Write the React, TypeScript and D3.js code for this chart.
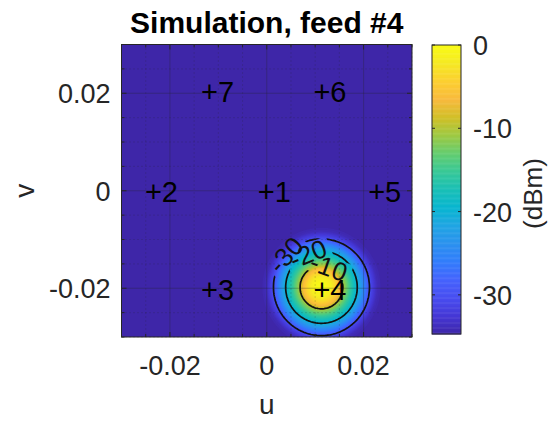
import React, { useEffect, useRef } from 'react';
import * as d3 from 'd3';

// axes
const uLimits = [-0.03, 0.03];
const vLimits = [-0.03, 0.03];
const axisTicks = [-0.02, 0, 0.02];
const axisTickLabels = ['-0.02', '0', '0.02'];
const minorStep = 0.005;

// feed horns
const feedNames = ['1', '2', '3', '4', '5', '6', '7'];
const feedU = [0, -0.0233, -0.0117, 0.0115, 0.0228, 0.0115, -0.0117];
const feedV = [0, 0, -0.0201, -0.0201, 0, 0.0204, 0.0204];

// simulated beam of feed #4: radial profile
const beamCenter = [0.0113, -0.0198];
const profileR = [0, 0.001, 0.002, 0.003, 0.0038, 0.0044, 0.006, 0.0074, 0.0087, 0.0099, 0.0106, 0.0115, 0.0126];
const profileDb = [0, -0.4, -1.6, -3.8, -6.6, -10, -15.6, -20, -25, -30, -32, -34, -34.7];

// contour levels + where clabel put the labels (polar angle around beam, deg)
const contourLevels = [-30, -20, -10];
const labelAngles = [138, 112, 70];

// colorbar
const cLimits = [-34.7, 0];
const cTicks = [0, -10, -20, -30];

const parula = [
  [0.2422, 0.1504, 0.6603], [0.2706, 0.2147, 0.8364], [0.2813, 0.3006, 0.9414],
  [0.2699, 0.3892, 0.9906], [0.1963, 0.4847, 0.9892], [0.1687, 0.5703, 0.9359],
  [0.1248, 0.6459, 0.8883], [0.0297, 0.7082, 0.8163], [0.0964, 0.75, 0.712],
  [0.2161, 0.7843, 0.5923], [0.3909, 0.8029, 0.4354], [0.6174, 0.7876, 0.2612],
  [0.8203, 0.7498, 0.1535], [0.9728, 0.7298, 0.2394], [0.9892, 0.8136, 0.1885],
  [0.9597, 0.9135, 0.1423], [0.9769, 0.9839, 0.0805],
].map(c => d3.rgb(c[0] * 255, c[1] * 255, c[2] * 255).toString());

const FONT = 'Liberation Sans, Arial, Helvetica, sans-serif';
const AX = '#262626';

const App = () => {
  const svgRef = useRef(null);

  useEffect(() => {
    const plot = { left: 121.5, right: 412, top: 44.5, bottom: 337 };
    const cb = { left: 432, right: 461, top: 45, bottom: 334 };

    const svg = d3.select(svgRef.current);
    svg.selectAll('*').remove();

    const x = d3.scaleLinear().domain(uLimits).range([plot.left, plot.right]);
    const y = d3.scaleLinear().domain(vLimits).range([plot.bottom, plot.top]);
    const color = d3.scaleSequential(d3.piecewise(d3.interpolateRgb, parula))
      .domain(cLimits).clamp(true);

    const defs = svg.append('defs');
    defs.append('clipPath').attr('id', 'plotClip')
      .append('rect')
      .attr('x', plot.left).attr('y', plot.top)
      .attr('width', plot.right - plot.left).attr('height', plot.bottom - plot.top);

    // field on a grid
    const n = 240;
    const profile = d3.scaleLinear().domain(profileR).range(profileDb).clamp(true);
    const du = uLimits[1] - uLimits[0];
    const dv = vLimits[1] - vLimits[0];
    const values = new Array(n * n);
    for (let j = 0; j < n; j++) {
      const v = vLimits[1] - ((j + 0.5) / n) * dv;
      for (let i = 0; i < n; i++) {
        const u = uLimits[0] + ((i + 0.5) / n) * du;
        values[j * n + i] = profile(Math.hypot(u - beamCenter[0], v - beamCenter[1]));
      }
    }

    const toPx = d3.geoTransform({
      point(px, py) {
        this.stream.point(x(uLimits[0] + (px / n) * du), y(vLimits[1] - (py / n) * dv));
      },
    });
    const path = d3.geoPath(toPx);

    const field = svg.append('g').attr('clip-path', 'url(#plotClip)');
    field.append('rect')
      .attr('x', plot.left).attr('y', plot.top)
      .attr('width', plot.right - plot.left).attr('height', plot.bottom - plot.top)
      .attr('fill', color(cLimits[0]));

    const step = 0.25;
    const bands = d3.range(cLimits[0] + step, 0, step);
    field.selectAll('path.band')
      .data(d3.contours().size([n, n]).thresholds(bands)(values))
      .enter()
      .append('path')
      .attr('class', 'band')
      .attr('d', path)
      .attr('fill', d => color(d.value + step / 2));

    // gaps in contour lines under the labels
    const invProfile = d3.scaleLinear().domain(profileDb).range(profileR);
    const labels = contourLevels.map((lev, k) => {
      const r = invProfile(lev);
      const a = (labelAngles[k] * Math.PI) / 180;
      return {
        text: String(lev),
        px: x(beamCenter[0] + r * Math.cos(a)),
        py: y(beamCenter[1] + r * Math.sin(a)),
        rot: 90 - labelAngles[k],
      };
    });

    const mask = defs.append('mask').attr('id', 'lblMask')
      .attr('maskUnits', 'userSpaceOnUse')
      .attr('x', 0).attr('y', 0).attr('width', 553).attr('height', 421);
    mask.append('rect').attr('width', 553).attr('height', 421).attr('fill', 'white');
    mask.selectAll('rect.hole')
      .data(labels)
      .enter()
      .append('rect')
      .attr('class', 'hole')
      .attr('x', -23).attr('y', -10).attr('width', 46).attr('height', 20)
      .attr('transform', d => `translate(${d.px},${d.py}) rotate(${d.rot})`)
      .attr('fill', 'black');

    field.append('g')
      .attr('mask', 'url(#lblMask)')
      .selectAll('path')
      .data(d3.contours().size([n, n]).thresholds(contourLevels)(values))
      .enter()
      .append('path')
      .attr('d', path)
      .attr('fill', 'none')
      .attr('stroke', '#111')
      .attr('stroke-width', 1.7);

    field.selectAll('text.clabel')
      .data(labels)
      .enter()
      .append('text')
      .attr('class', 'clabel')
      .attr('transform', d => `translate(${d.px},${d.py}) rotate(${d.rot})`)
      .attr('text-anchor', 'middle')
      .attr('dy', '0.35em')
      .style('font', `26px ${FONT}`)
      .attr('fill', '#111')
      .text(d => d.text);

    // grid
    const minor = d3.range(uLimits[0], uLimits[1] + 1e-9, minorStep)
      .filter(t => !axisTicks.some(m => Math.abs(m - t) < 1e-9));
    const grid = svg.append('g').attr('stroke', AX);
    grid.selectAll('line.mx').data(minor).enter().append('line')
      .attr('x1', d => x(d)).attr('x2', d => x(d))
      .attr('y1', plot.top).attr('y2', plot.bottom)
      .attr('stroke-opacity', 0.35).attr('stroke-dasharray', '1,3');
    grid.selectAll('line.my').data(minor).enter().append('line')
      .attr('y1', d => y(d)).attr('y2', d => y(d))
      .attr('x1', plot.left).attr('x2', plot.right)
      .attr('stroke-opacity', 0.35).attr('stroke-dasharray', '1,3');
    grid.selectAll('line.gx').data(axisTicks).enter().append('line')
      .attr('x1', d => x(d)).attr('x2', d => x(d))
      .attr('y1', plot.top).attr('y2', plot.bottom)
      .attr('stroke-opacity', 0.3);
    grid.selectAll('line.gy').data(axisTicks).enter().append('line')
      .attr('y1', d => y(d)).attr('y2', d => y(d))
      .attr('x1', plot.left).attr('x2', plot.right)
      .attr('stroke-opacity', 0.3);

    // ticks (inward, mirrored)
    const ticks = svg.append('g').attr('stroke', AX).attr('stroke-width', 1);
    const allTicks = [
      ...axisTicks.map(t => ({ t, len: 5 })),
      ...minor.map(t => ({ t, len: 3 })),
    ];
    allTicks.forEach(({ t, len }) => {
      ticks.append('line').attr('x1', x(t)).attr('x2', x(t)).attr('y1', plot.bottom).attr('y2', plot.bottom - len);
      ticks.append('line').attr('x1', x(t)).attr('x2', x(t)).attr('y1', plot.top).attr('y2', plot.top + len);
      ticks.append('line').attr('y1', y(t)).attr('y2', y(t)).attr('x1', plot.left).attr('x2', plot.left + len);
      ticks.append('line').attr('y1', y(t)).attr('y2', y(t)).attr('x1', plot.right).attr('x2', plot.right - len);
    });

    svg.append('rect')
      .attr('x', plot.left).attr('y', plot.top)
      .attr('width', plot.right - plot.left).attr('height', plot.bottom - plot.top)
      .attr('fill', 'none').attr('stroke', AX).attr('stroke-width', 1);

    // feed markers
    const feeds = svg.append('g');
    feedNames.forEach((name, k) => {
      feeds.append('text')
        .attr('x', x(feedU[k]) - 9)
        .attr('y', y(feedV[k]) + 11)
        .style('font', `29px ${FONT}`)
        .attr('fill', '#000')
        .text('+' + name);
    });

    // tick labels
    svg.append('g').selectAll('text')
      .data(axisTicks).enter().append('text')
      .attr('x', d => x(d)).attr('y', 375)
      .attr('text-anchor', 'middle')
      .style('font', `27px ${FONT}`).attr('fill', AX)
      .text((d, i) => axisTickLabels[i]);
    svg.append('g').selectAll('text')
      .data(axisTicks).enter().append('text')
      .attr('x', plot.left - 11).attr('y', d => y(d) + 10)
      .attr('text-anchor', 'end')
      .style('font', `27px ${FONT}`).attr('fill', AX)
      .text((d, i) => axisTickLabels[i]);

    // axis labels + title
    svg.append('text')
      .attr('x', x(0)).attr('y', 414)
      .attr('text-anchor', 'middle')
      .style('font', `28px ${FONT}`).attr('fill', AX)
      .text('u');
    svg.append('text')
      .attr('transform', `translate(34,${y(0)}) rotate(-90)`)
      .attr('text-anchor', 'middle')
      .style('font', `28px ${FONT}`).attr('fill', AX)
      .text('v');
    svg.append('text')
      .attr('x', (plot.left + plot.right) / 2).attr('y', 33)
      .attr('text-anchor', 'middle')
      .style('font', `bold 30px ${FONT}`).attr('fill', '#000')
      .text('Simulation, feed #4');

    // colorbar
    const cy = d3.scaleLinear().domain(cLimits).range([cb.bottom, cb.top]);
    const strips = d3.range(cLimits[0], cLimits[1], 0.1);
    svg.append('g').selectAll('rect')
      .data(strips).enter().append('rect')
      .attr('x', cb.left).attr('width', cb.right - cb.left)
      .attr('y', d => cy(d + 0.1))
      .attr('height', d => cy(d) - cy(d + 0.1) + 0.5)
      .attr('fill', d => color(d + 0.05));
    svg.append('rect')
      .attr('x', cb.left).attr('y', cb.top)
      .attr('width', cb.right - cb.left).attr('height', cb.bottom - cb.top)
      .attr('fill', 'none').attr('stroke', AX).attr('stroke-width', 1);
    const cg = svg.append('g');
    cTicks.forEach(t => {
      cg.append('line').attr('x1', cb.right).attr('x2', cb.right - 3)
        .attr('y1', cy(t)).attr('y2', cy(t)).attr('stroke', AX);
      cg.append('line').attr('x1', cb.left).attr('x2', cb.left + 3)
        .attr('y1', cy(t)).attr('y2', cy(t)).attr('stroke', AX);
      cg.append('text')
        .attr('x', cb.right + 12).attr('y', cy(t) + 10)
        .style('font', `27px ${FONT}`).attr('fill', AX)
        .text(String(t));
    });
    svg.append('text')
      .attr('transform', `translate(542,${(cb.top + cb.bottom) / 2 + 4}) rotate(-90)`)
      .attr('text-anchor', 'middle')
      .style('font', `26px ${FONT}`).attr('fill', AX)
      .text('(dBm)');
  }, []);

  return (
    <svg
      ref={svgRef}
      width={553}
      height={421}
      style={{ position: 'absolute', left: 0, top: 0, background: '#fff' }}
    />
  );
};

export default App;
